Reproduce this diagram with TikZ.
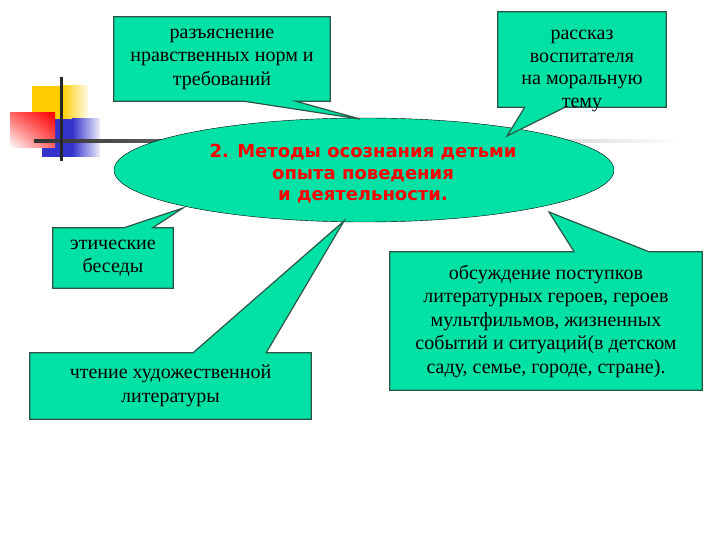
\documentclass[tikz,border=0pt]{standalone}
\usepackage{fontspec}
\setmainfont{Liberation Serif}
\newfontfamily\methfont{DejaVu Sans}
\usetikzlibrary{shapes.geometric,calc,shadings}
\pgfdeclarelayer{tails}
\pgfdeclarelayer{labels}
\pgfsetlayers{main,tails,labels}
\definecolor{seagreen}{RGB}{0,226,165}
\definecolor{boxline}{RGB}{45,85,70}
\definecolor{decoyellow}{RGB}{255,204,0}
\definecolor{decoblue}{RGB}{51,51,204}
\definecolor{decored}{RGB}{255,0,0}
\begin{document}
\begin{tikzpicture}[x=1pt,y=-1pt,
 methnode/.style={ellipse,draw=black,fill=seagreen,minimum width=500,minimum height=104,inner sep=0pt},
 methtext/.style={align=center,inner sep=0pt,text=decored,font=\methfont\bfseries\fontsize{18}{21.5}\selectfont},
 calltext/.style={align=center,inner sep=0pt,font=\fontsize{20}{23.5}\selectfont},
 callout/.style={draw=boxline,fill=seagreen,line width=1.2pt,line join=miter}]
\useasboundingbox (0,0) rectangle (720,540);
% corner decoration
\fill[decoyellow] (32,86) rectangle (62,120);
\shade[left color=decoyellow,right color=decoyellow!8] (62,86) rectangle (88,120);
\fill[decoblue] (42,119) rectangle (72,157);
\shade[left color=decoblue,right color=decoblue!8] (72,119) rectangle (100,157);
\shade[upper right=decored,lower left=white,upper left=decored!60,lower right=decored!60] (10,113) rectangle (55,148);
\shade[left color=black!80,right color=white] (34,139.5) rectangle (680,142.5);
\draw[line width=3pt,black!85] (61,77) -- (61,161);
% main ellipse
\node[methnode] (meth) at (364,170) {};
\node[methtext] (methlabel) at (363,174) {2. Методы осознания детьми\\опыта поведения\\и деятельности.};
% tips of the callouts
\coordinate (normstip) at (360,119);
\coordinate (storytip) at (507,136);
\coordinate (talkstip) at (183,208);
\coordinate (readtip) at (344,221);
\coordinate (deedstip) at (549,212);
\begin{pgfonlayer}{labels}
\node[calltext,minimum width=216,minimum height=84] (norms) at (222,59) {разъяснение\\нравственных норм и\\требований};
\node[calltext,minimum width=168,minimum height=95] (story) at (582,59.5) {};
\node[calltext,font=\fontsize{20}{22.7}\selectfont] (storytext) at (582,71) {рассказ\\воспитателя\\на моральную\\тему};
\node[calltext,minimum width=120,minimum height=60] (talks) at (113,258) {этические\\беседы};
\node[calltext,minimum width=281,minimum height=66] (read) at (170.5,386) {чтение художественной\\литературы};
\node[calltext,minimum width=312,minimum height=138] (deeds) at (546,321) {обсуждение поступков\\литературных героев, героев\\мультфильмов, жизненных\\событий и ситуаций(в детском\\саду, семье, городе, стране).};
\end{pgfonlayer}
\begin{pgfonlayer}{tails}
\draw[callout] (norms.north west) -- (norms.north east) -- (norms.south east)
 -- ($(norms.south west)!0.84!(norms.south east)$) -- (normstip)
 -- ($(norms.south west)!0.60!(norms.south east)$) -- (norms.south west) -- cycle;
\draw[callout] (story.north west) -- (story.north east) -- (story.south east)
 -- ($(story.south west)!0.40!(story.south east)$) -- (storytip)
 -- ($(story.south west)!0.16!(story.south east)$) -- (story.south west) -- cycle;
\draw[callout] (talks.north west) -- ($(talks.north west)!0.59!(talks.north east)$)
 -- (talkstip) -- ($(talks.north west)!0.83!(talks.north east)$)
 -- (talks.north east) -- (talks.south east) -- (talks.south west) -- cycle;
\draw[callout] (read.north west) -- ($(read.north west)!0.58!(read.north east)$)
 -- (readtip) -- ($(read.north west)!0.84!(read.north east)$)
 -- (read.north east) -- (read.south east) -- (read.south west) -- cycle;
\draw[callout] (deeds.north west) -- ($(deeds.north west)!0.59!(deeds.north east)$)
 -- (deedstip) -- ($(deeds.north west)!0.83!(deeds.north east)$)
 -- (deeds.north east) -- (deeds.south east) -- (deeds.south west) -- cycle;
\end{pgfonlayer}
\end{tikzpicture}
\end{document}
